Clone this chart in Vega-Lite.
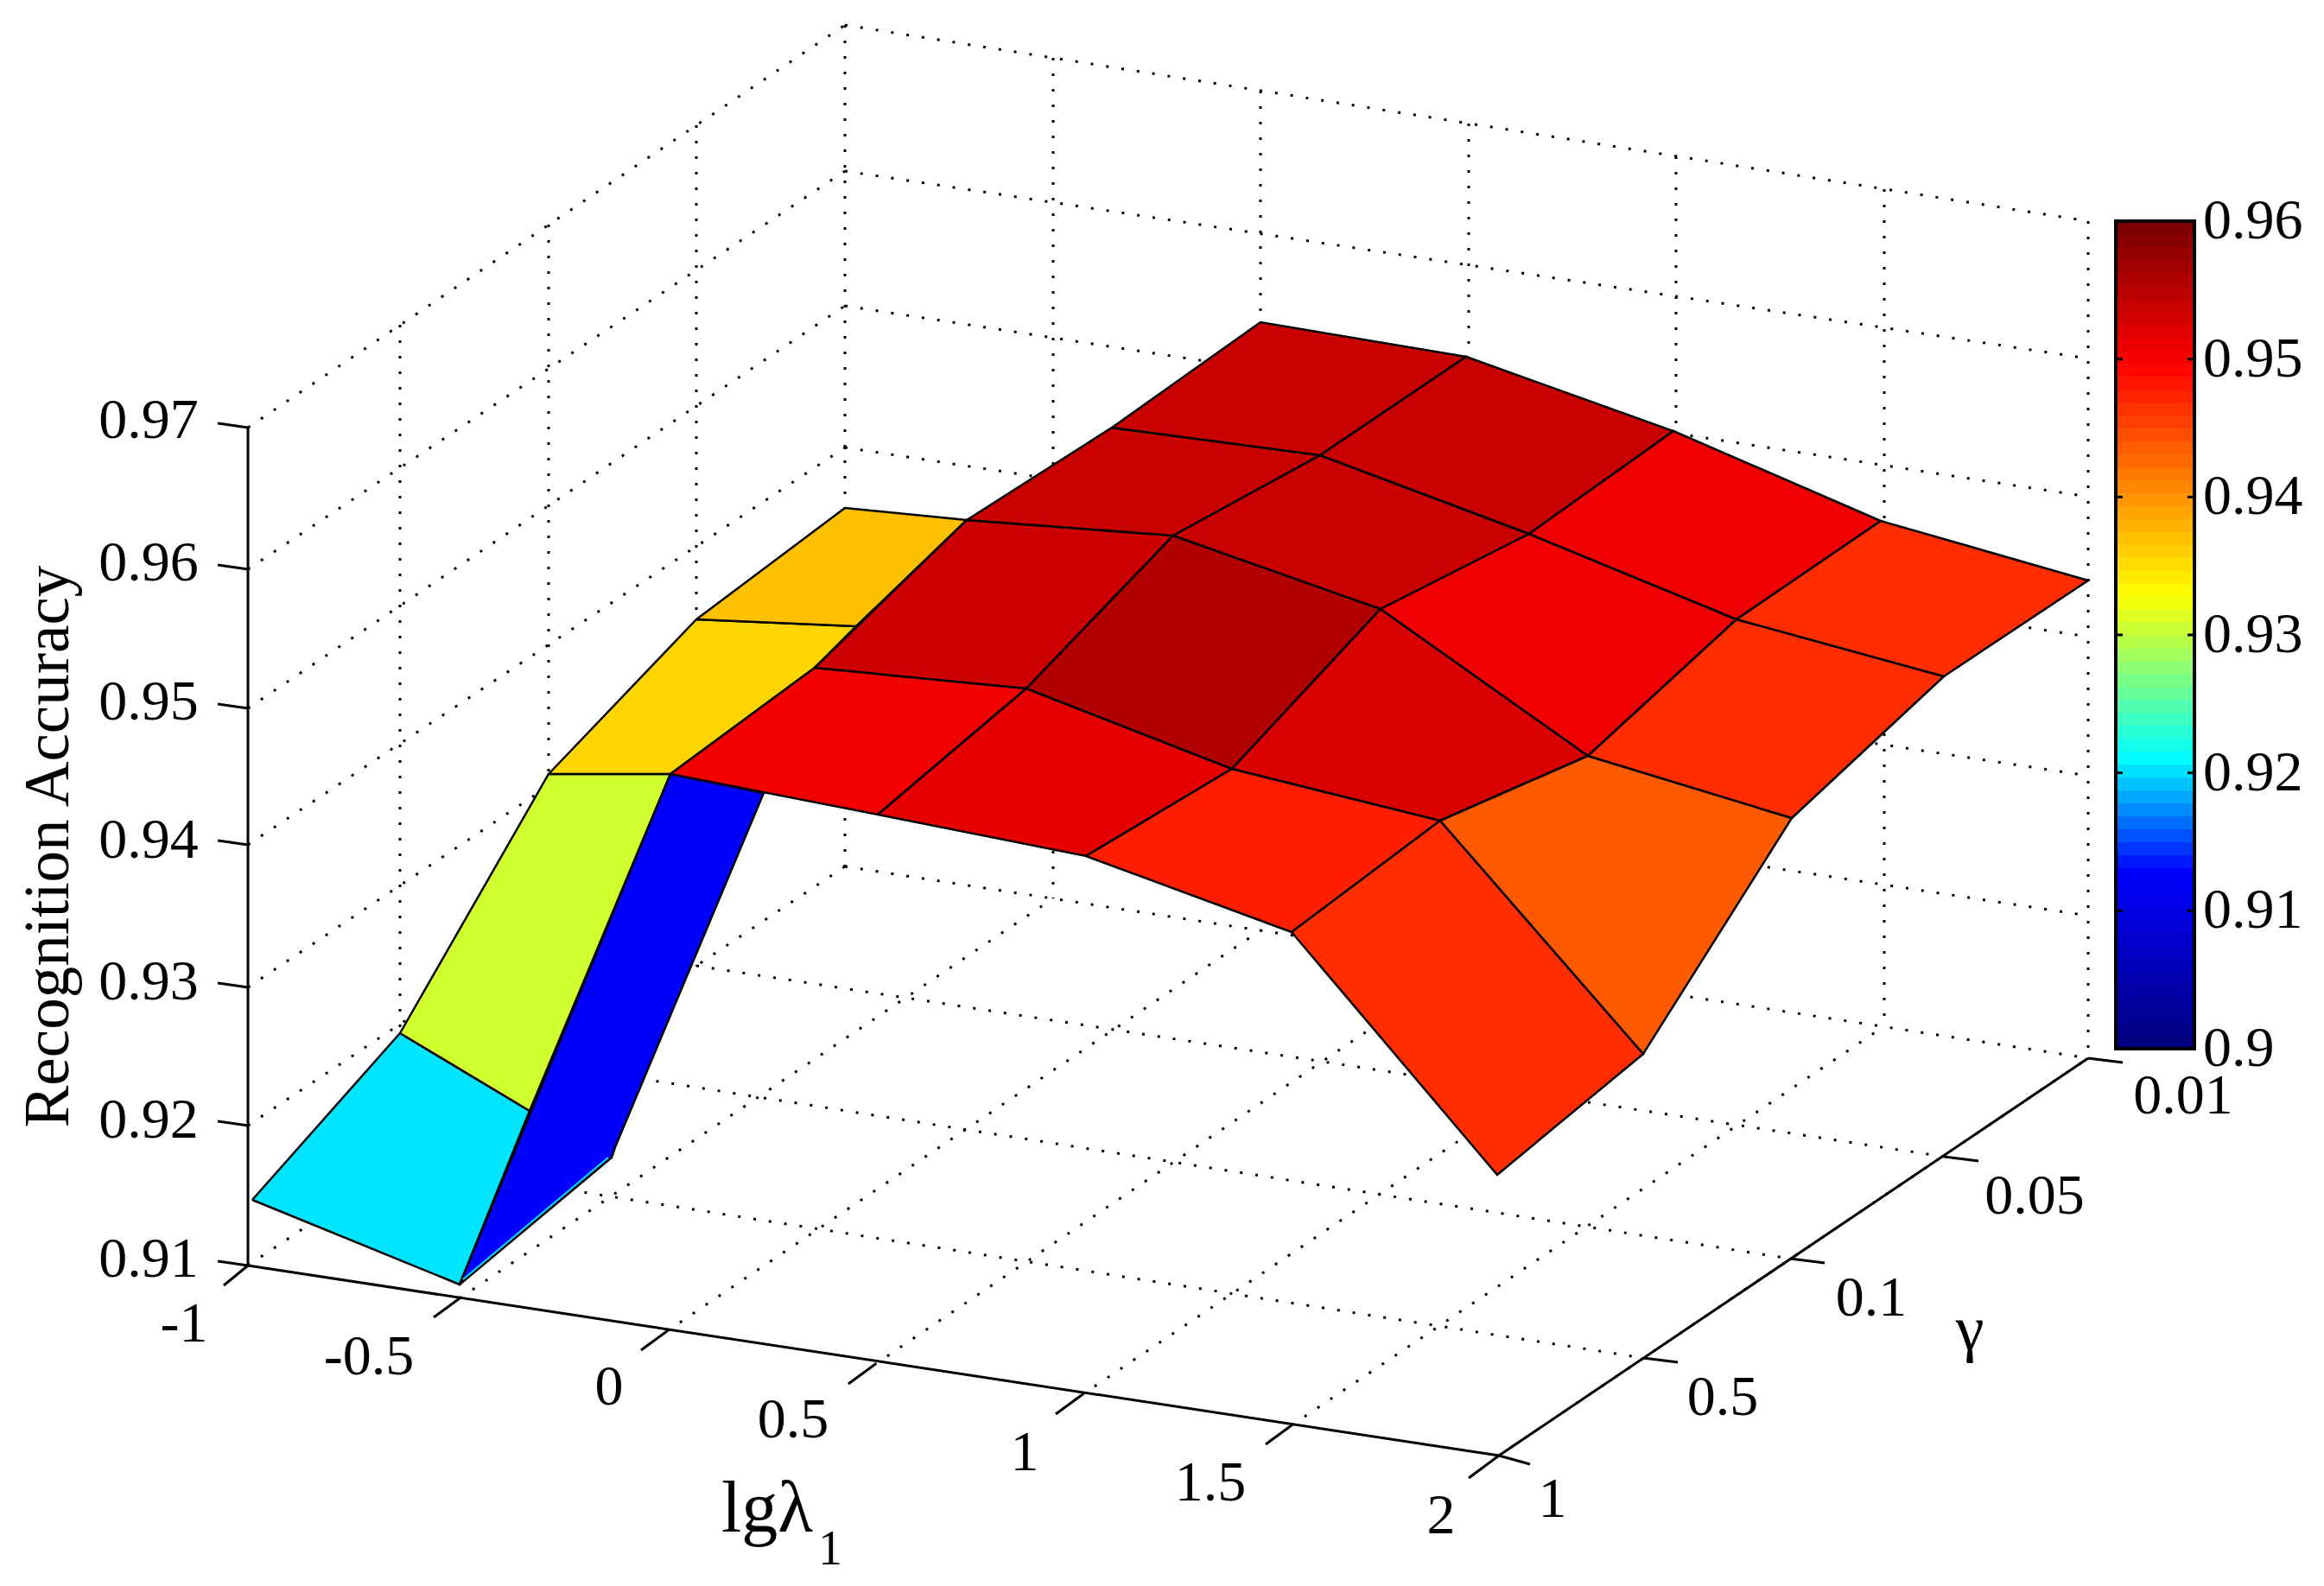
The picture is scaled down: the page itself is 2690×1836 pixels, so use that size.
{
"$schema":"https://vega.github.io/schema/vega-lite/v6.json",
"width":2690,"height":1836,"padding":0,
"autosize":{"type":"fit","contains":"padding"},
"background":"white",
"config":{"view":{"stroke":null}},
"resolve":{"scale":{"y":"independent"}},
"datasets":{
"grid":[
{"x1":287,"y1":495,"x2":978,"y2":29},{"x1":287,"y1":659,"x2":978,"y2":198},{"x1":287,"y1":820,"x2":978,"y2":354},{"x1":287,"y1":978,"x2":978,"y2":518},{"x1":287,"y1":1143,"x2":978,"y2":680},{"x1":287,"y1":1303,"x2":978,"y2":842},
{"x1":978,"y1":29,"x2":2417,"y2":256},{"x1":978,"y1":198,"x2":2417,"y2":415},{"x1":978,"y1":354,"x2":2417,"y2":575},{"x1":978,"y1":518,"x2":2417,"y2":737},{"x1":978,"y1":680,"x2":2417,"y2":898},{"x1":978,"y1":842,"x2":2417,"y2":1060},
{"x1":463,"y1":376,"x2":463,"y2":1347},{"x1":635,"y1":260,"x2":635,"y2":1232},{"x1":806,"y1":145,"x2":806,"y2":1118},{"x1":978,"y1":29,"x2":978,"y2":1003},
{"x1":1219,"y1":67,"x2":1219,"y2":1040},{"x1":1459,"y1":105,"x2":1459,"y2":1077},{"x1":1700,"y1":143,"x2":1700,"y2":1114},{"x1":1940,"y1":181,"x2":1940,"y2":1151},{"x1":2181,"y1":219,"x2":2181,"y2":1188},{"x1":2417,"y1":256,"x2":2417,"y2":1225},
{"x1":287,"y1":1465,"x2":978,"y2":1003},{"x1":532,"y1":1503,"x2":1219,"y2":1040},{"x1":772,"y1":1541,"x2":1459,"y2":1077},{"x1":1012,"y1":1580,"x2":1700,"y2":1114},{"x1":1252,"y1":1615,"x2":1940,"y2":1151},{"x1":1495,"y1":1650,"x2":2181,"y2":1188},{"x1":1735,"y1":1685,"x2":2417,"y2":1225},
{"x1":978,"y1":1003,"x2":2417,"y2":1225},{"x1":806,"y1":1118,"x2":2250,"y2":1339},{"x1":635,"y1":1232,"x2":2072,"y2":1457},{"x1":463,"y1":1347,"x2":1902,"y2":1572}
],
"axes":[
{"x1":287,"y1":495,"x2":287,"y2":1465},{"x1":287,"y1":1465,"x2":1735,"y2":1685},{"x1":1735,"y1":1685,"x2":2417,"y2":1225},
{"x1":252,"y1":490,"x2":287,"y2":495},{"x1":252,"y1":654,"x2":287,"y2":659},{"x1":252,"y1":815,"x2":287,"y2":820},{"x1":252,"y1":973,"x2":287,"y2":978},{"x1":252,"y1":1138,"x2":287,"y2":1143},{"x1":252,"y1":1298,"x2":287,"y2":1303},{"x1":252,"y1":1460,"x2":287,"y2":1465},
{"x1":287,"y1":1465,"x2":259,"y2":1488},{"x1":532,"y1":1503,"x2":502,"y2":1525},{"x1":772,"y1":1541,"x2":742,"y2":1563},{"x1":1012,"y1":1580,"x2":982,"y2":1602},{"x1":1252,"y1":1615,"x2":1222,"y2":1637},{"x1":1495,"y1":1650,"x2":1465,"y2":1672},{"x1":1735,"y1":1685,"x2":1700,"y2":1711},
{"x1":1735,"y1":1685,"x2":1771,"y2":1695},{"x1":1902,"y1":1572,"x2":1942,"y2":1577},{"x1":2072,"y1":1457,"x2":2112,"y2":1462},{"x1":2250,"y1":1339,"x2":2290,"y2":1344},{"x1":2417,"y1":1225,"x2":2457,"y2":1230}
],
"surface":[
{"poly":"a1","acc":0.91984,"vertex":1,"sx":292,"sy":1389},{"poly":"a1","acc":0.91984,"vertex":2,"sx":463,"sy":1196},{"poly":"a1","acc":0.91984,"vertex":3,"sx":613,"sy":1286},{"poly":"a1","acc":0.91984,"vertex":4,"sx":532,"sy":1487},{"poly":"a1","acc":0.91984,"vertex":5,"sx":292,"sy":1389},
{"poly":"a2","acc":0.93025,"vertex":1,"sx":463,"sy":1196},{"poly":"a2","acc":0.93025,"vertex":2,"sx":635,"sy":896},{"poly":"a2","acc":0.93025,"vertex":3,"sx":776,"sy":896},{"poly":"a2","acc":0.93025,"vertex":4,"sx":613,"sy":1286},{"poly":"a2","acc":0.93025,"vertex":5,"sx":463,"sy":1196},
{"poly":"a3","acc":0.93517,"vertex":1,"sx":635,"sy":896},{"poly":"a3","acc":0.93517,"vertex":2,"sx":806,"sy":717},{"poly":"a3","acc":0.93517,"vertex":3,"sx":991,"sy":725},{"poly":"a3","acc":0.93517,"vertex":4,"sx":943,"sy":773},{"poly":"a3","acc":0.93517,"vertex":5,"sx":776,"sy":896},{"poly":"a3","acc":0.93517,"vertex":6,"sx":635,"sy":896},
{"poly":"a4","acc":0.93655,"vertex":1,"sx":806,"sy":717},{"poly":"a4","acc":0.93655,"vertex":2,"sx":978,"sy":588},{"poly":"a4","acc":0.93655,"vertex":3,"sx":1119,"sy":602},{"poly":"a4","acc":0.93655,"vertex":4,"sx":991,"sy":725},{"poly":"a4","acc":0.93655,"vertex":5,"sx":806,"sy":717},
{"poly":"b1","acc":0.9123,"vertex":1,"sx":532,"sy":1487},{"poly":"b1","acc":0.9123,"vertex":2,"sx":776,"sy":896},{"poly":"b1","acc":0.9123,"vertex":3,"sx":884,"sy":918},{"poly":"b1","acc":0.9123,"vertex":4,"sx":712,"sy":1328},{"poly":"b1","acc":0.9123,"vertex":5,"sx":708,"sy":1340},{"poly":"b1","acc":0.9123,"vertex":6,"sx":532,"sy":1487},
{"poly":"c0","acc":0.95003,"vertex":1,"sx":776,"sy":896},{"poly":"c0","acc":0.95003,"vertex":2,"sx":1016,"sy":943},{"poly":"c0","acc":0.95003,"vertex":3,"sx":1188,"sy":797},{"poly":"c0","acc":0.95003,"vertex":4,"sx":943,"sy":773},{"poly":"c0","acc":0.95003,"vertex":5,"sx":776,"sy":896},
{"poly":"c1","acc":0.95109,"vertex":1,"sx":1016,"sy":943},{"poly":"c1","acc":0.95109,"vertex":2,"sx":1257,"sy":991},{"poly":"c1","acc":0.95109,"vertex":3,"sx":1426,"sy":890},{"poly":"c1","acc":0.95109,"vertex":4,"sx":1188,"sy":797},{"poly":"c1","acc":0.95109,"vertex":5,"sx":1016,"sy":943},
{"poly":"c2","acc":0.94722,"vertex":1,"sx":1257,"sy":991},{"poly":"c2","acc":0.94722,"vertex":2,"sx":1495,"sy":1079},{"poly":"c2","acc":0.94722,"vertex":3,"sx":1667,"sy":950},{"poly":"c2","acc":0.94722,"vertex":4,"sx":1426,"sy":890},{"poly":"c2","acc":0.94722,"vertex":5,"sx":1257,"sy":991},
{"poly":"c3","acc":0.94624,"vertex":1,"sx":1495,"sy":1079},{"poly":"c3","acc":0.94624,"vertex":2,"sx":1733,"sy":1360},{"poly":"c3","acc":0.94624,"vertex":3,"sx":1902,"sy":1220},{"poly":"c3","acc":0.94624,"vertex":4,"sx":1667,"sy":950},{"poly":"c3","acc":0.94624,"vertex":5,"sx":1495,"sy":1079},
{"poly":"d0","acc":0.95305,"vertex":1,"sx":943,"sy":773},{"poly":"d0","acc":0.95305,"vertex":2,"sx":1188,"sy":797},{"poly":"d0","acc":0.95305,"vertex":3,"sx":1358,"sy":620},{"poly":"d0","acc":0.95305,"vertex":4,"sx":1119,"sy":602},{"poly":"d0","acc":0.95305,"vertex":5,"sx":943,"sy":773},
{"poly":"d1","acc":0.95516,"vertex":1,"sx":1188,"sy":797},{"poly":"d1","acc":0.95516,"vertex":2,"sx":1426,"sy":890},{"poly":"d1","acc":0.95516,"vertex":3,"sx":1598,"sy":705},{"poly":"d1","acc":0.95516,"vertex":4,"sx":1358,"sy":620},{"poly":"d1","acc":0.95516,"vertex":5,"sx":1188,"sy":797},
{"poly":"d2","acc":0.95215,"vertex":1,"sx":1426,"sy":890},{"poly":"d2","acc":0.95215,"vertex":2,"sx":1667,"sy":950},{"poly":"d2","acc":0.95215,"vertex":3,"sx":1838,"sy":875},{"poly":"d2","acc":0.95215,"vertex":4,"sx":1598,"sy":705},{"poly":"d2","acc":0.95215,"vertex":5,"sx":1426,"sy":890},
{"poly":"d3","acc":0.94327,"vertex":1,"sx":1667,"sy":950},{"poly":"d3","acc":0.94327,"vertex":2,"sx":1902,"sy":1220},{"poly":"d3","acc":0.94327,"vertex":3,"sx":2074,"sy":947},{"poly":"d3","acc":0.94327,"vertex":4,"sx":1838,"sy":875},{"poly":"d3","acc":0.94327,"vertex":5,"sx":1667,"sy":950},
{"poly":"e0","acc":0.95335,"vertex":1,"sx":1119,"sy":602},{"poly":"e0","acc":0.95335,"vertex":2,"sx":1358,"sy":620},{"poly":"e0","acc":0.95335,"vertex":3,"sx":1528,"sy":527},{"poly":"e0","acc":0.95335,"vertex":4,"sx":1287,"sy":495},{"poly":"e0","acc":0.95335,"vertex":5,"sx":1119,"sy":602},
{"poly":"e1","acc":0.95335,"vertex":1,"sx":1358,"sy":620},{"poly":"e1","acc":0.95335,"vertex":2,"sx":1598,"sy":705},{"poly":"e1","acc":0.95335,"vertex":3,"sx":1770,"sy":618},{"poly":"e1","acc":0.95335,"vertex":4,"sx":1528,"sy":527},{"poly":"e1","acc":0.95335,"vertex":5,"sx":1358,"sy":620},
{"poly":"e2","acc":0.95033,"vertex":1,"sx":1598,"sy":705},{"poly":"e2","acc":0.95033,"vertex":2,"sx":1838,"sy":875},{"poly":"e2","acc":0.95033,"vertex":3,"sx":2010,"sy":717},{"poly":"e2","acc":0.95033,"vertex":4,"sx":1770,"sy":618},{"poly":"e2","acc":0.95033,"vertex":5,"sx":1598,"sy":705},
{"poly":"e3","acc":0.94624,"vertex":1,"sx":1838,"sy":875},{"poly":"e3","acc":0.94624,"vertex":2,"sx":2074,"sy":947},{"poly":"e3","acc":0.94624,"vertex":3,"sx":2250,"sy":783},{"poly":"e3","acc":0.94624,"vertex":4,"sx":2010,"sy":717},{"poly":"e3","acc":0.94624,"vertex":5,"sx":1838,"sy":875},
{"poly":"f0","acc":0.95335,"vertex":1,"sx":1287,"sy":495},{"poly":"f0","acc":0.95335,"vertex":2,"sx":1528,"sy":527},{"poly":"f0","acc":0.95335,"vertex":3,"sx":1697,"sy":413},{"poly":"f0","acc":0.95335,"vertex":4,"sx":1459,"sy":373},{"poly":"f0","acc":0.95335,"vertex":5,"sx":1287,"sy":495},
{"poly":"f1","acc":0.95335,"vertex":1,"sx":1528,"sy":527},{"poly":"f1","acc":0.95335,"vertex":2,"sx":1770,"sy":618},{"poly":"f1","acc":0.95335,"vertex":3,"sx":1937,"sy":499},{"poly":"f1","acc":0.95335,"vertex":4,"sx":1697,"sy":413},{"poly":"f1","acc":0.95335,"vertex":5,"sx":1528,"sy":527},
{"poly":"f2","acc":0.95033,"vertex":1,"sx":1770,"sy":618},{"poly":"f2","acc":0.95033,"vertex":2,"sx":2010,"sy":717},{"poly":"f2","acc":0.95033,"vertex":3,"sx":2177,"sy":603},{"poly":"f2","acc":0.95033,"vertex":4,"sx":1937,"sy":499},{"poly":"f2","acc":0.95033,"vertex":5,"sx":1770,"sy":618},
{"poly":"f3","acc":0.94624,"vertex":1,"sx":2010,"sy":717},{"poly":"f3","acc":0.94624,"vertex":2,"sx":2250,"sy":783},{"poly":"f3","acc":0.94624,"vertex":3,"sx":2417,"sy":672},{"poly":"f3","acc":0.94624,"vertex":4,"sx":2177,"sy":603},{"poly":"f3","acc":0.94624,"vertex":5,"sx":2010,"sy":717}
],
"colorbar":[
{"lo":0.9,"hi":0.9009375},{"lo":0.9009375,"hi":0.901875},{"lo":0.901875,"hi":0.9028125},{"lo":0.9028125,"hi":0.90375},{"lo":0.90375,"hi":0.9046875},{"lo":0.9046875,"hi":0.905625},{"lo":0.905625,"hi":0.9065625},{"lo":0.9065625,"hi":0.9075},
{"lo":0.9075,"hi":0.9084375},{"lo":0.9084375,"hi":0.909375},{"lo":0.909375,"hi":0.9103125},{"lo":0.9103125,"hi":0.91125},{"lo":0.91125,"hi":0.9121875},{"lo":0.9121875,"hi":0.913125},{"lo":0.913125,"hi":0.9140625},{"lo":0.9140625,"hi":0.915},
{"lo":0.915,"hi":0.9159375},{"lo":0.9159375,"hi":0.916875},{"lo":0.916875,"hi":0.9178125},{"lo":0.9178125,"hi":0.91875},{"lo":0.91875,"hi":0.9196875},{"lo":0.9196875,"hi":0.920625},{"lo":0.920625,"hi":0.9215625},{"lo":0.9215625,"hi":0.9225},
{"lo":0.9225,"hi":0.9234375},{"lo":0.9234375,"hi":0.924375},{"lo":0.924375,"hi":0.9253125},{"lo":0.9253125,"hi":0.92625},{"lo":0.92625,"hi":0.9271875},{"lo":0.9271875,"hi":0.928125},{"lo":0.928125,"hi":0.9290625},{"lo":0.9290625,"hi":0.93},
{"lo":0.93,"hi":0.9309375},{"lo":0.9309375,"hi":0.931875},{"lo":0.931875,"hi":0.9328125},{"lo":0.9328125,"hi":0.93375},{"lo":0.93375,"hi":0.9346875},{"lo":0.9346875,"hi":0.935625},{"lo":0.935625,"hi":0.9365625},{"lo":0.9365625,"hi":0.9375},
{"lo":0.9375,"hi":0.9384375},{"lo":0.9384375,"hi":0.939375},{"lo":0.939375,"hi":0.9403125},{"lo":0.9403125,"hi":0.94125},{"lo":0.94125,"hi":0.9421875},{"lo":0.9421875,"hi":0.943125},{"lo":0.943125,"hi":0.9440625},{"lo":0.9440625,"hi":0.945},
{"lo":0.945,"hi":0.9459375},{"lo":0.9459375,"hi":0.946875},{"lo":0.946875,"hi":0.9478125},{"lo":0.9478125,"hi":0.94875},{"lo":0.94875,"hi":0.9496875},{"lo":0.9496875,"hi":0.950625},{"lo":0.950625,"hi":0.9515625},{"lo":0.9515625,"hi":0.9525},
{"lo":0.9525,"hi":0.9534375},{"lo":0.9534375,"hi":0.954375},{"lo":0.954375,"hi":0.9553125},{"lo":0.9553125,"hi":0.95625},{"lo":0.95625,"hi":0.9571875},{"lo":0.9571875,"hi":0.958125},{"lo":0.958125,"hi":0.9590625},{"lo":0.9590625,"hi":0.96}
],
"ticklabels":[
{"sx":172,"sy":487,"label":"0.97"},{"sx":172,"sy":652,"label":"0.96"},{"sx":172,"sy":813,"label":"0.95"},{"sx":172,"sy":973,"label":"0.94"},{"sx":172,"sy":1137,"label":"0.93"},{"sx":172,"sy":1297,"label":"0.92"},{"sx":172,"sy":1458,"label":"0.91"},
{"sx":213,"sy":1533,"label":"-1"},{"sx":427,"sy":1571,"label":"-0.5"},{"sx":705,"sy":1606,"label":"0"},{"sx":918,"sy":1644,"label":"0.5"},{"sx":1186,"sy":1682,"label":"1"},{"sx":1401,"sy":1717,"label":"1.5"},{"sx":1668,"sy":1755,"label":"2"},
{"sx":1797,"sy":1736,"label":"1"},{"sx":1994,"sy":1618,"label":"0.5"},{"sx":2166,"sy":1503,"label":"0.1"},{"sx":2355,"sy":1385,"label":"0.05"},{"sx":2527,"sy":1269,"label":"0.01"}
],
"barlabels":[{"val":0.96,"label":"0.96"},{"val":0.95,"label":"0.95"},{"val":0.94,"label":"0.94"},{"val":0.93,"label":"0.93"},{"val":0.92,"label":"0.92"},{"val":0.91,"label":"0.91"},{"val":0.9,"label":"0.9"}]
},
"layer":[
{"data":{"name":"grid"},"mark":{"type":"rule","color":"black","strokeWidth":3,"strokeDash":[3,15]},
 "encoding":{"x":{"field":"x1","type":"quantitative","axis":null,"scale":{"domain":[0,2690],"nice":false,"zero":false}},"x2":{"field":"x2"},"y":{"field":"y1","type":"quantitative","axis":null,"scale":{"domain":[1836,0],"nice":false,"zero":false}},"y2":{"field":"y2"}}},
{"data":{"name":"axes"},"mark":{"type":"rule","color":"black","strokeWidth":3},
 "encoding":{"x":{"field":"x1","type":"quantitative","axis":null,"scale":{"domain":[0,2690],"nice":false,"zero":false}},"x2":{"field":"x2"},"y":{"field":"y1","type":"quantitative","axis":null,"scale":{"domain":[1836,0],"nice":false,"zero":false}},"y2":{"field":"y2"}}},
{"data":{"name":"surface"},"mark":{"type":"line","stroke":"black","strokeWidth":2.5,"strokeJoin":"miter"},
 "encoding":{"x":{"field":"sx","type":"quantitative","axis":null,"scale":{"domain":[0,2690],"nice":false,"zero":false}},"y":{"field":"sy","type":"quantitative","axis":null,"scale":{"domain":[1836,0],"nice":false,"zero":false}},"detail":{"field":"poly"},"order":{"field":"vertex"},
 "fill":{"field":"acc","type":"quantitative","legend":null,"scale":{"domain":[0.9,0.9123,0.9207,0.9324,0.9492,0.96],"range":["#000080","#0000ff","#00ffff","#ffff00","#ff0000","#700000"],"interpolate":"rgb"}}}},
{"data":{"values":[{"x1":536,"y1":1481,"x2":704,"y2":1340}]},"mark":{"type":"rule","color":"#00e5ff","strokeWidth":2},
 "encoding":{"x":{"field":"x1","type":"quantitative","axis":null,"scale":{"domain":[0,2690],"nice":false,"zero":false}},"x2":{"field":"x2"},"y":{"field":"y1","type":"quantitative","axis":null,"scale":{"domain":[1836,0],"nice":false,"zero":false}},"y2":{"field":"y2"}}},
{"data":{"name":"colorbar"},"mark":{"type":"rect","strokeWidth":1},
 "encoding":{"x":{"datum":2449,"type":"quantitative","axis":null,"scale":{"domain":[0,2690],"nice":false,"zero":false}},"x2":{"datum":2540},"y":{"field":"lo","type":"quantitative","axis":null,"scale":{"domain":[0.9,0.96],"range":[1214,256],"nice":false,"zero":false}},"y2":{"field":"hi"},
 "fill":{"field":"lo","type":"quantitative","legend":null,"scale":{"domain":[0.9,0.9123,0.9207,0.9324,0.9492,0.96],"range":["#000080","#0000ff","#00ffff","#ffff00","#ff0000","#700000"],"interpolate":"rgb"}},
 "stroke":{"field":"lo","type":"quantitative","legend":null,"scale":{"domain":[0.9,0.9123,0.9207,0.9324,0.9492,0.96],"range":["#000080","#0000ff","#00ffff","#ffff00","#ff0000","#700000"],"interpolate":"rgb"}}}},
{"data":{"values":[{"lo":0.9,"hi":0.96}]},"mark":{"type":"rect","fillOpacity":0,"stroke":"black","strokeWidth":4},
 "encoding":{"x":{"datum":2449,"type":"quantitative","axis":null,"scale":{"domain":[0,2690],"nice":false,"zero":false}},"x2":{"datum":2540},"y":{"field":"lo","type":"quantitative","axis":null,"scale":{"domain":[0.9,0.96],"range":[1214,256],"nice":false,"zero":false}},"y2":{"field":"hi"}}},
{"data":{"name":"barlabels"},"transform":[{"filter":"datum.val>0.9 && datum.val<0.96"}],"mark":{"type":"rule","color":"black","strokeWidth":3},
 "encoding":{"x":{"datum":2449,"type":"quantitative","axis":null,"scale":{"domain":[0,2690],"nice":false,"zero":false}},"x2":{"datum":2457},"y":{"field":"val","type":"quantitative","axis":null,"scale":{"domain":[0.9,0.96],"range":[1214,256],"nice":false,"zero":false}}}},
{"data":{"name":"barlabels"},"transform":[{"filter":"datum.val>0.9 && datum.val<0.96"}],"mark":{"type":"rule","color":"black","strokeWidth":3},
 "encoding":{"x":{"datum":2532,"type":"quantitative","axis":null,"scale":{"domain":[0,2690],"nice":false,"zero":false}},"x2":{"datum":2540},"y":{"field":"val","type":"quantitative","axis":null,"scale":{"domain":[0.9,0.96],"range":[1214,256],"nice":false,"zero":false}}}},
{"data":{"name":"barlabels"},"mark":{"type":"text","font":"Liberation Serif","fontSize":66,"align":"left","baseline":"middle","color":"black"},
 "encoding":{"x":{"datum":2550,"type":"quantitative","axis":null,"scale":{"domain":[0,2690],"nice":false,"zero":false}},"y":{"field":"val","type":"quantitative","axis":null,"scale":{"domain":[0.9,0.96],"range":[1214,256],"nice":false,"zero":false}},"text":{"field":"label"}}},
{"data":{"name":"ticklabels"},"mark":{"type":"text","font":"Liberation Serif","fontSize":66,"align":"center","baseline":"middle","color":"black"},
 "encoding":{"x":{"field":"sx","type":"quantitative","axis":null,"scale":{"domain":[0,2690],"nice":false,"zero":false}},"y":{"field":"sy","type":"quantitative","axis":null,"scale":{"domain":[1836,0],"nice":false,"zero":false}},"text":{"field":"label"}}},
{"data":{"values":[{"sx":79,"sy":980,"label":"Recognition Accuracy"}]},"mark":{"type":"text","font":"Liberation Serif","fontSize":73,"angle":270,"align":"center","baseline":"alphabetic","color":"black"},
 "encoding":{"x":{"field":"sx","type":"quantitative","axis":null,"scale":{"domain":[0,2690],"nice":false,"zero":false}},"y":{"field":"sy","type":"quantitative","axis":null,"scale":{"domain":[1836,0],"nice":false,"zero":false}},"text":{"field":"label"}}},
{"data":{"values":[{"sx":888,"sy":1773,"label":"lgλ"}]},"mark":{"type":"text","font":"Liberation Serif","fontSize":84,"align":"center","baseline":"alphabetic","color":"black"},
 "encoding":{"x":{"field":"sx","type":"quantitative","axis":null,"scale":{"domain":[0,2690],"nice":false,"zero":false}},"y":{"field":"sy","type":"quantitative","axis":null,"scale":{"domain":[1836,0],"nice":false,"zero":false}},"text":{"field":"label"}}},
{"data":{"values":[{"sx":2280,"sy":1562,"label":"γ"}]},"mark":{"type":"text","font":"Liberation Serif","fontSize":74,"align":"center","baseline":"alphabetic","color":"black"},
 "encoding":{"x":{"field":"sx","type":"quantitative","axis":null,"scale":{"domain":[0,2690],"nice":false,"zero":false}},"y":{"field":"sy","type":"quantitative","axis":null,"scale":{"domain":[1836,0],"nice":false,"zero":false}},"text":{"field":"label"}}},
{"data":{"values":[{"sx":961,"sy":1811,"label":"1"}]},"mark":{"type":"text","font":"Liberation Serif","fontSize":56,"align":"center","baseline":"alphabetic","color":"black"},
 "encoding":{"x":{"field":"sx","type":"quantitative","axis":null,"scale":{"domain":[0,2690],"nice":false,"zero":false}},"y":{"field":"sy","type":"quantitative","axis":null,"scale":{"domain":[1836,0],"nice":false,"zero":false}},"text":{"field":"label"}}}
]
}
